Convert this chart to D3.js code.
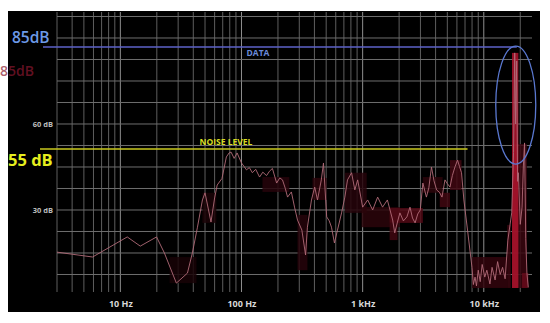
<!DOCTYPE html>
<html>
<head>
<meta charset="utf-8">
<script src="https://cdn.jsdelivr.net/npm/d3@7"></script>
<style>
  html, body { margin: 0; padding: 0; background: #fff; }
  svg { display: block; }
  text { font-family: "Open Sans", "Noto Sans", sans-serif; }
</style>
</head>
<body>
<svg id="chart" width="550" height="323"></svg>
<script>
// ---------- DATA ----------
const freqHz = [3, 5.9, 11.4, 14.6, 19.9, 23.1, 29, 35.8, 39.3, 43.3, 47.6, 50, 56, 60, 63, 69, 75, 79, 82, 87, 92,
  100, 105, 110, 116, 123, 131, 141, 150, 161, 170, 180, 195, 207, 218, 230, 240, 258, 274, 290, 315, 338, 350, 378,
  402, 424, 456, 475, 505, 530, 553, 585, 620, 670, 713, 750, 810, 862, 910, 1000, 1100, 1210, 1330, 1460, 1600,
  1770, 1840, 1930, 2030, 2170, 2320, 2460, 2580, 2710, 2850, 2990, 3140, 3360, 3520, 3700, 3880, 4080, 4300, 4520,
  4780, 5000, 5260, 5500, 5780, 6070, 6300, 6550, 6850, 7340, 7990, 8200, 8470, 8700, 9000, 9340, 9700, 10190,
  10600, 11240, 11700, 12400, 13000, 13660, 14300, 15000, 15800, 17000, 17600, 18000, 18300, 18700, 19000, 19300,
  20000, 20700, 21200, 21700, 22200, 22700, 23300];
const levelDb = [15.3, 13.6, 20.6, 17.4, 20.6, 15, 4.5, 8, 15, 24, 33.5, 36, 25.8, 34.2, 38.7, 41, 48.5, 49.9, 50.2, 48, 49.9,
  46.4, 45.2, 44, 44.8, 43, 44.2, 41.5, 43.2, 42, 43.5, 44.5, 39.4, 41.2, 40.5, 37.5, 34.5, 36.3, 31, 26.5, 23, 14.3, 24, 33.5,
  38, 33.5, 40.5, 46.4, 27.6, 26.2, 24, 18.5, 23, 29, 34.5, 40.5, 43, 37, 40.5, 31, 33.5, 30, 34.5, 31, 33.5,
  26.5, 22, 25.5, 29, 26.2, 27.6, 31, 27.2, 25.5, 28.6, 30, 39.4, 34.5, 37.8, 45, 40.2, 37, 36.2, 34.5,
  40.5, 39.2, 38, 42, 45, 47.4, 45.2, 43, 33.5, 23, 10, 4, 6.6, 3.5, 9, 5, 11, 6.6,
  9, 4.2, 10, 5.6, 12, 7.5, 10, 6, 19.5, 29, 50, 84.8, 60, 82, 40, 43,
  25, 31, 45, 53.4, 20, 8, 3];

// spectral hold bands
const bandFreqStart = [25.5, 47.6, 149, 290, 386, 713, 980, 1670, 1670, 3140, 4330, 5260, 8000, 15600, 17100, 17100, 20700];
const bandFreqEnd   = [42.5, 62, 248, 350, 505, 1080, 2030, 3140, 1940, 4570, 5260, 6550, 15600, 16700, 22700, 19300, 23300];
const bandDbLow     = [4.5, 25.5, 36.3, 9, 33.5, 29, 24, 25.5, 19.5, 36, 31, 37, 2.8, 2.8, 2.8, 2.8, 2.8];
const bandDbHigh    = [13.6, 36, 41.5, 28.3, 41.2, 43, 31, 30.7, 25.5, 41.5, 36, 47.4, 13.6, 24.8, 53, 84.8, 8];
const bandIntensity = [0.12, 0.18, 0.3, 0.3, 0.35, 0.3, 0.35, 0.6, 0.5, 0.35, 0.5, 0.5, 0.4, 0.45, 0.45, 1.0, 0.7];

const xTickValues = [10, 100, 1000, 10000];
const xTickLabels = ["10 Hz", "100 Hz", "1 kHz", "10 kHz"];
const yTickValues = [60, 30];
const yTickLabels = ["60 dB", "30 dB"];

const dataLevelDb = 86.9, dataLabel = "85dB", dataTag = "DATA";
const noiseLevelDb = 51.3, noiseLabel = "55 dB", noiseTag = "NOISE LEVEL";
const peakFreq = 18360, peakCenterDb = 66.6;

// ---------- LAYOUT ----------
const panel = {x0: 8, y0: 11, x1: 540, y1: 312};
const plot = {left: 57, right: 532, top: 12, bottom: 292};

const svg = d3.select("#chart");
const x = d3.scaleLog().domain([3, 25000]).range([plot.left, plot.right]);
const y = d3.scaleLinear().domain([0, 100]).range([296, 9.33]);

svg.append("rect").attr("x", panel.x0).attr("y", panel.y0)
  .attr("width", panel.x1 - panel.x0).attr("height", panel.y1 - panel.y0).attr("fill", "#000");

// ghost label artifact
svg.append("text").attr("x", 0).attr("y", 76).attr("font-size", 14).attr("font-weight", 600)
  .attr("fill", "#8a1830").attr("opacity", 0.7).text(dataLabel);

// grid
const gridG = svg.append("g");
const vTicks = x.ticks();
gridG.selectAll("line.v").data(vTicks).join("line")
  .attr("x1", d => x(d)).attr("x2", d => x(d))
  .attr("y1", plot.top).attr("y2", plot.bottom)
  .attr("stroke", d => (Math.abs(Math.log10(d) % 1) < 1e-9 ? "#8e8e8e" : "#5e5e5e"))
  .attr("stroke-width", 1);
const hTicks = d3.range(7.5, 100, 7.5);
gridG.selectAll("line.h").data(hTicks).join("line")
  .attr("x1", plot.left).attr("x2", plot.right)
  .attr("y1", d => y(d)).attr("y2", d => y(d))
  .attr("stroke", "#6e6e6e").attr("stroke-width", 1);

// bands
const bandColor = d3.scalePow().exponent(1.8).domain([0, 1]).range(["#140205", "#b0142e"]);
const bands = bandFreqStart.map((f, i) => ({f0: f, f1: bandFreqEnd[i], lo: bandDbLow[i], hi: bandDbHigh[i], k: bandIntensity[i]}));
svg.append("g").selectAll("rect").data(bands).join("rect")
  .attr("x", d => x(d.f0)).attr("width", d => x(d.f1) - x(d.f0))
  .attr("y", d => y(d.hi)).attr("height", d => y(d.lo) - y(d.hi))
  .attr("fill", d => bandColor(d.k)).attr("opacity", 0.85);

// curve
const pts = freqHz.map((f, i) => [f, levelDb[i]]);
svg.append("path").datum(pts)
  .attr("d", d3.line().x(d => x(d[0])).y(d => y(d[1])))
  .attr("fill", "none").attr("stroke", "#b06a78").attr("stroke-width", 1).attr("opacity", 0.9);

// axes
const xAxis = svg.append("g").attr("transform", `translate(0,${plot.bottom})`)
  .call(d3.axisBottom(x).tickValues(xTickValues).tickFormat((d, i) => xTickLabels[i]).tickSize(0).tickPadding(9));
xAxis.select(".domain").remove();
xAxis.selectAll("text").attr("fill", "#d8d8d8").attr("font-size", 9).attr("font-weight", 700)
  .attr("font-family", "'Open Sans', sans-serif");

const yAxis = svg.append("g").attr("transform", `translate(${plot.left},0)`)
  .call(d3.axisLeft(y).tickValues(yTickValues).tickFormat((d, i) => yTickLabels[i]).tickSize(0).tickPadding(4));
yAxis.select(".domain").remove();
yAxis.selectAll("text").attr("fill", "#bdbdbd").attr("font-size", 7.5).attr("font-weight", 700)
  .attr("font-family", "'Open Sans', sans-serif");

// annotations
const ann = svg.append("g");
ann.append("line").attr("x1", plot.left - 14).attr("x2", x(peakFreq) + 1)
  .attr("y1", y(dataLevelDb)).attr("y2", y(dataLevelDb)).attr("stroke", "#5c62c8").attr("stroke-width", 1.5);
ann.append("text").attr("x", 12).attr("y", y(dataLevelDb) - 4).attr("font-size", 15.5).attr("font-weight", 600)
  .attr("fill", "#6d9ae8").text(dataLabel);
ann.append("text").attr("x", 258).attr("y", y(dataLevelDb) + 9).attr("text-anchor", "middle")
  .attr("font-size", 8.5).attr("font-weight", 700).attr("fill", "#6b8ad8").text(dataTag);

ann.append("line").attr("x1", plot.left - 17).attr("x2", x(7340))
  .attr("y1", y(noiseLevelDb)).attr("y2", y(noiseLevelDb)).attr("stroke", "#c8c81e").attr("stroke-width", 1.5);
ann.append("text").attr("x", 8).attr("y", y(noiseLevelDb) + 17).attr("font-size", 16.5).attr("font-weight", 700)
  .attr("fill", "#e6ee1e").text(noiseLabel);
ann.append("text").attr("x", 226).attr("y", y(noiseLevelDb) - 4).attr("text-anchor", "middle")
  .attr("font-size", 8.5).attr("font-weight", 700).attr("fill", "#d8dc22").text(noiseTag);

ann.append("ellipse").attr("cx", x(peakFreq)).attr("cy", y(peakCenterDb)).attr("rx", 20).attr("ry", 59)
  .attr("fill", "none").attr("stroke", "#5a78d0").attr("stroke-width", 1.3);
</script>
</body>
</html>
